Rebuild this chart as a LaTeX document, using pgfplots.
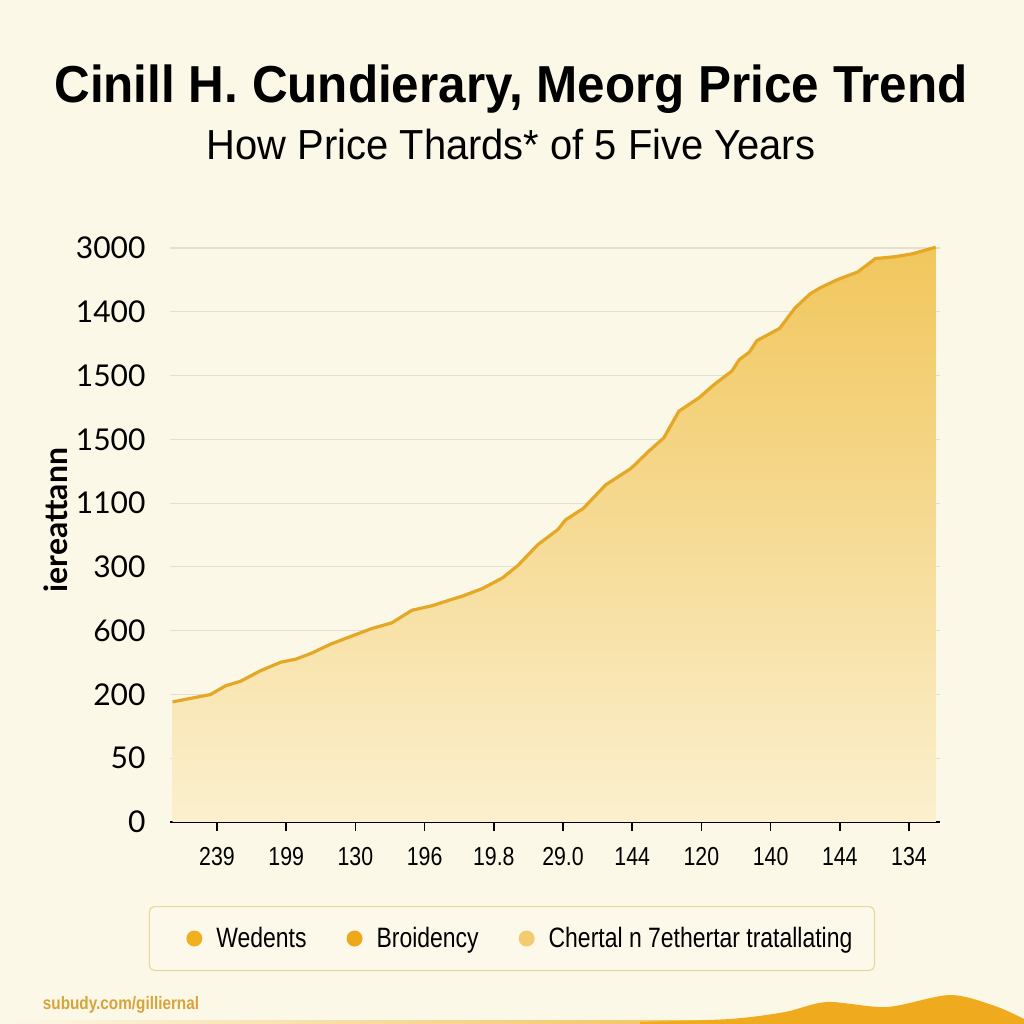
\documentclass[border=0pt]{standalone}
\usepackage{pgfplots}
\pgfplotsset{compat=1.18}
\usepackage{pgfplotstable}
\usepackage{fontspec}
\setmainfont{Lato}
\newfontfamily\titlefont[FakeStretch=0.95]{Liberation Sans Bold}
\newfontfamily\subfont[FakeStretch=0.95]{Liberation Sans}
\newfontfamily\condfont[FakeStretch=0.82]{Liberation Sans}
\newfontfamily\footfont[FakeStretch=0.85]{Liberation Sans Bold}
\definecolor{bg}{HTML}{FCF8E8}
\definecolor{linec}{HTML}{E4A826}
\definecolor{filltop}{HTML}{F1C65C}
\definecolor{fillbot}{HTML}{FBF0CF}
\definecolor{gridc}{HTML}{E4E0D0}
\definecolor{gold}{HTML}{EFAA1E}
\definecolor{leg1}{HTML}{F0B020}
\definecolor{leg2}{HTML}{EDA81C}
\definecolor{leg3}{HTML}{F3CB70}
\definecolor{legbord}{HTML}{E8D89A}
\definecolor{legfill}{HTML}{FDF9EA}
\definecolor{footc}{HTML}{D6A53A}

\pgfplotstableread{
x y
-0.642 1.884
-0.095 1.998
0.123 2.135
0.341 2.207
0.633 2.374
0.924 2.506
1.142 2.554
1.360 2.644
1.652 2.793
1.942 2.913
2.234 3.032
2.525 3.122
2.816 3.319
3.107 3.391
3.399 3.493
3.545 3.541
3.835 3.660
4.127 3.828
4.345 4.019
4.636 4.348
4.928 4.587
5.036 4.737
5.292 4.916
5.618 5.287
5.983 5.544
6.238 5.813
6.457 6.023
6.675 6.441
6.965 6.651
7.185 6.860
7.439 7.069
7.548 7.249
7.694 7.368
7.803 7.548
8.130 7.739
8.350 8.056
8.568 8.278
8.712 8.373
8.968 8.505
9.259 8.624
9.514 8.834
9.805 8.864
10.059 8.911
10.387 9.013
}\pricedata

\begin{document}
\begin{tikzpicture}[x=1pt,y=1pt]
\fill[bg] (0,0) rectangle (1024,1024);
\useasboundingbox (0,0) rectangle (1024,1024);
% bottom decoration
\fill[left color=bg, right color=gold] (0,0) rectangle (1024,3);
\fill[gold] plot[smooth] coordinates {(640,2) (730,5) (785,12) (827,22) (887,17) (950,29) (995,18) (1024,5)} -- (1024,0) -- (640,0) -- cycle;
% titles
\node[font=\titlefont\fontsize{52}{56}\selectfont, anchor=center] at (511,935) {Cinill H. Cundierary, Meorg Price Trend};
\node[font=\subfont\fontsize{42}{46}\selectfont, anchor=center] at (511,879) {How Price Thards* of 5 Five Years};
\node[font=\footfont\fontsize{18}{20}\selectfont, text=footc, anchor=center] at (121,19) {subudy.com/gilliernal};

\begin{axis}[
  at={(170pt,202pt)}, anchor=south west,
  scale only axis, width=770pt, height=574pt,
  xmin=-0.679, xmax=10.448, ymin=0, ymax=9,
  clip=false,
  axis x line=bottom, axis y line=left,
  x axis line style={line width=2pt, black, -},
  y axis line style={draw=none},
  xtick={0,...,10},
  xticklabels={239,199,130,196,19.8,29.0,144,120,140,144,134},
  ytick={0,...,9},
  yticklabels={0,50,200,600,300,1100,1500,1500,1400,3000},
  tick align=outside,
  major tick length=9pt,
  xtick style={black, line width=1.5pt},
  ytick style={draw=none},
  ymajorgrids, grid style={gridc, line width=1.2pt},
  xticklabel style={font=\condfont\fontsize{26}{28}\selectfont, yshift=-13pt},
  yticklabel style={font=\fontsize{30}{34}\selectfont, anchor=east, xshift=-12pt},
  /pgf/number format/assume math mode=true,
  ylabel={iereattann},
  ylabel style={font=\bfseries\fontsize{32}{36}\selectfont, at={(axis description cs:-0.148,0.526)}, anchor=center},
  legend style={at={(axis description cs:0.444,-0.203)}, anchor=center,
    draw=legbord, fill=legfill, line width=1.2pt, rounded corners=5pt,
    font=\condfont\fontsize{28}{30}\selectfont,
    inner xsep=20pt, inner ysep=19pt,
    /tikz/every even column/.append style={column sep=21pt}},
  legend columns=3,
  legend image code/.code={\fill[#1] (0pt,0pt) circle (8pt); \path (-25pt,0pt) (20pt,0pt);},
]
\addplot[draw=none, top color=filltop, bottom color=fillbot, forget plot] table {\pricedata} \closedcycle;
\addplot[linec, line width=3.2pt, forget plot] table {\pricedata};
\addlegendimage{fill=leg1, draw=none}
\addlegendentry{Wedents}
\addlegendimage{fill=leg2, draw=none}
\addlegendentry{Broidency}
\addlegendimage{fill=leg3, draw=none}
\addlegendentry{Chertal n 7ethertar tratallating}
\end{axis}
\end{tikzpicture}
\end{document}
